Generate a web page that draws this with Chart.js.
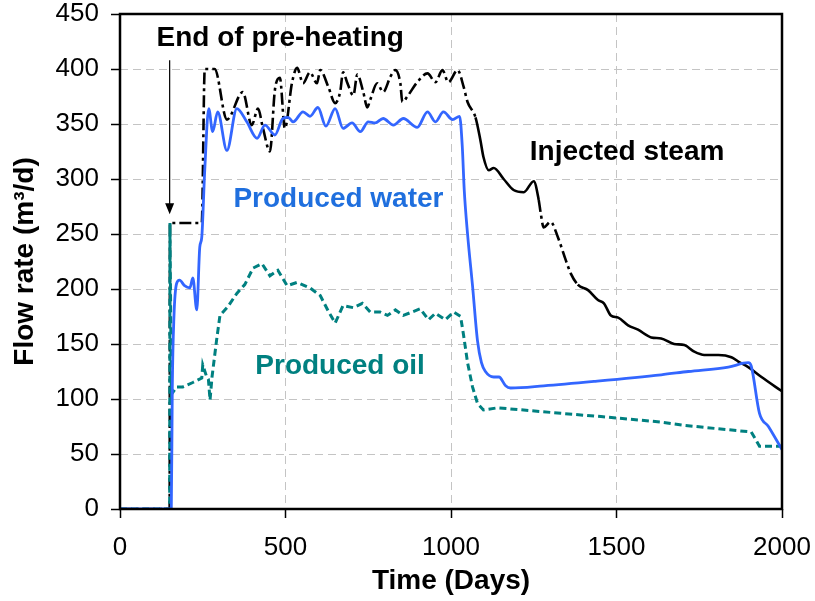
<!DOCTYPE html>
<html>
<head>
<meta charset="utf-8">
<script src="https://cdn.jsdelivr.net/npm/chart.js@4.4.0/dist/chart.umd.min.js"></script>
<style>
  html, body { margin: 0; padding: 0; background: #fff; }
  #wrap { width: 815px; height: 601px; }
</style>
</head>
<body>
<div id="wrap"><canvas id="flowChart" width="815" height="601"></canvas></div>
<script>
// Injected steam (m3/d) vs. time (days)
const steamDays = [0,150,151,247,256,286,323,371,398,417,432,453,468,483,498,520,535,553,574,595,
  605,629,650,665,674,686,705,717,735,747,756,777,795,817,832,847,853,868,898,929,
  953,974,992,1020,1038,1050,1074,1089,1098,1114,1129,1159,1189,1220,1250,1265,1271,1280,1301,1323,
  1347,1362,1383,1414,1444,1462,1483,1505,1535,1565,1605,1635,1674,1705,1735,1765,1808,1847,1868,1898,
  1938,2000];
const steamRate = [0,0,260,260,400,400,354,379,349,364,346,325,381,392,346,388,401,387,397,387,
  399,384,369,379,397,388,376,395,379,365,372,387,379,393,399,387,370,375,388,396,
  388,399,388,399,384,370,356,335,320,308,310,300,290,288,298,281,269,256,261,247,
  226,214,204,199,190,187,176,174,167,163,156,155,150,149,143,140,140,138,134,129,
  120,107];

// Produced water
const waterDays = [0,155,158,163,171,180,195,211,220,232,241,247,256,268,280,295,323,353,383,414,
  438,468,492,508,523,553,574,598,622,650,674,701,726,750,771,795,826,856,898,929,
  953,977,1005,1026,1034,1040,1050,1065,1080,1092,1104,1129,1145,1165,1180,1280,1432,1635,1717,1838,
  1898,1907,1932,1959,2000];
const waterRate = [0,0,110,175,205,208,203,201,210,181,238,247,308,364,343,361,326,364,352,337,
  349,340,355,356,352,361,357,365,348,364,346,351,343,352,351,355,349,355,347,361,
  352,361,354,357,330,290,250,203,153,133,125,120,120,112,110,112,116,122,125,129,
  133,130,87,75,54];

// Produced oil
const oilDays = [0,150,151,155,171,190,220,247,250,262,267,272,278,292,302,326,353,377,402,429,
  453,477,505,535,574,605,629,650,674,705,732,756,786,808,832,856,907,932,953,983,
  1008,1029,1038,1050,1065,1080,1098,1141,1332,1453,1635,1705,1907,1917,1932,2000];
const oilRate = [0,0,260,104,111,111,115,119,131,120,118,99,120,154,176,184,196,204,219,223,
  212,217,203,206,201,194,180,169,185,183,187,179,179,176,181,176,182,172,178,172,
  179,175,158,133,111,96,90,92,87,84,79,76,70,65,57,57];

const xMax = 2000, xStep = 500;
const yMax = 450, yStep = 50;

const notes = [
  { text: 'End of pre-heating', day: 484, rate: 428, color: '#000000' },
  { text: 'Injected steam', day: 1532, rate: 324, color: '#000000' },
  { text: 'Produced water', day: 660, rate: 282, color: '#1f6fde' },
  { text: 'Produced oil', day: 665, rate: 130, color: '#008080' }
];

const FONT = '"Liberation Sans", Arial, Helvetica, sans-serif';
const pts = (xs, ys) => xs.map((d, i) => ({ x: d, y: ys[i] }));

// frame, arrow and in-plot labels
const annotate = {
  id: 'annotate',
  afterDatasetsDraw(chart) {
    const { ctx, chartArea: a, scales: { x, y } } = chart;
    ctx.save();
    ctx.strokeStyle = '#000';
    ctx.lineWidth = 2.5;
    ctx.strokeRect(a.left, a.top, a.right - a.left, a.bottom - a.top);

    ctx.textAlign = 'center';
    ctx.textBaseline = 'middle';
    ctx.font = 'bold 28px ' + FONT;
    notes.forEach(n => {
      ctx.fillStyle = n.color;
      ctx.fillText(n.text, x.getPixelForValue(n.day), y.getPixelForValue(n.rate));
    });

    // arrow down to the end of pre-heating
    const ax = x.getPixelForValue(150);
    const y0 = y.getPixelForValue(408), y1 = y.getPixelForValue(268);
    ctx.lineWidth = 1.2;
    ctx.beginPath(); ctx.moveTo(ax, y0); ctx.lineTo(ax, y1 - 8); ctx.stroke();
    ctx.fillStyle = '#000';
    ctx.beginPath(); ctx.moveTo(ax, y1); ctx.lineTo(ax - 4.5, y1 - 11); ctx.lineTo(ax + 4.5, y1 - 11); ctx.closePath(); ctx.fill();
    ctx.restore();
  }
};

// fixed axis box sizes; labels may hang over the canvas margins
const fixBox = (w, h) => s => {
  if (w) s.width = w;
  if (h) s.height = h;
  s.paddingLeft = s.paddingRight = s.paddingTop = s.paddingBottom = 0;
};

const gridOpts = { color: '#c4c4c4', lineWidth: 1, tickColor: '#000', tickLength: 9, tickWidth: 1.5, tickBorderDash: [] };

new Chart(document.getElementById('flowChart'), {
  type: 'line',
  data: {
    datasets: [
      {
        label: 'Produced water',
        data: pts(waterDays, waterRate),
        borderColor: '#3366ff', borderWidth: 2.8,
        pointRadius: 0, cubicInterpolationMode: 'monotone', order: 0
      },
      {
        label: 'Produced oil',
        data: pts(oilDays, oilRate),
        borderColor: '#008080', borderWidth: 3, borderDash: [7, 4],
        pointRadius: 0, tension: 0, order: 1
      },
      {
        label: 'Injected steam',
        data: pts(steamDays, steamRate),
        borderColor: '#000', borderWidth: 2.6,
        pointRadius: 0, cubicInterpolationMode: 'monotone', order: 2,
        segment: {
          borderDash: c => {
            const d = steamDays[c.p0DataIndex];
            return (d < 1060 || (d > 1260 && d < 1370)) ? [12, 4, 3, 4] : [];
          }
        }
      }
    ]
  },
  options: {
    responsive: false,
    animation: false,
    devicePixelRatio: 1,
    layout: { padding: { top: 14, right: 33, left: 0, bottom: 0 } },
    plugins: { legend: { display: false }, tooltip: { enabled: false } },
    scales: {
      x: {
        type: 'linear', min: 0, max: xMax,
        ticks: { stepSize: xStep, color: '#000', font: { family: FONT, size: 26 }, padding: 14, maxRotation: 0,
          callback: v => String(v) },
        grid: gridOpts,
        border: { display: false, dash: [8, 5] },
        title: { display: true, text: 'Time (Days)', color: '#000', font: { family: FONT, size: 28, weight: 'bold' }, padding: { top: 0, bottom: 3 } },
        afterFit: fixBox(0, 92)
      },
      y: {
        type: 'linear', min: 0, max: yMax,
        ticks: { stepSize: yStep, color: '#000', font: { family: FONT, size: 26 }, padding: 12 },
        grid: gridOpts,
        border: { display: false, dash: [8, 5] },
        title: { display: true, text: 'Flow rate (m³/d)', color: '#000', font: { family: FONT, size: 28, weight: 'bold' }, padding: { top: 8, bottom: 0 } },
        afterFit: fixBox(120, 0)
      }
    }
  },
  plugins: [annotate]
});
</script>
</body>
</html>
